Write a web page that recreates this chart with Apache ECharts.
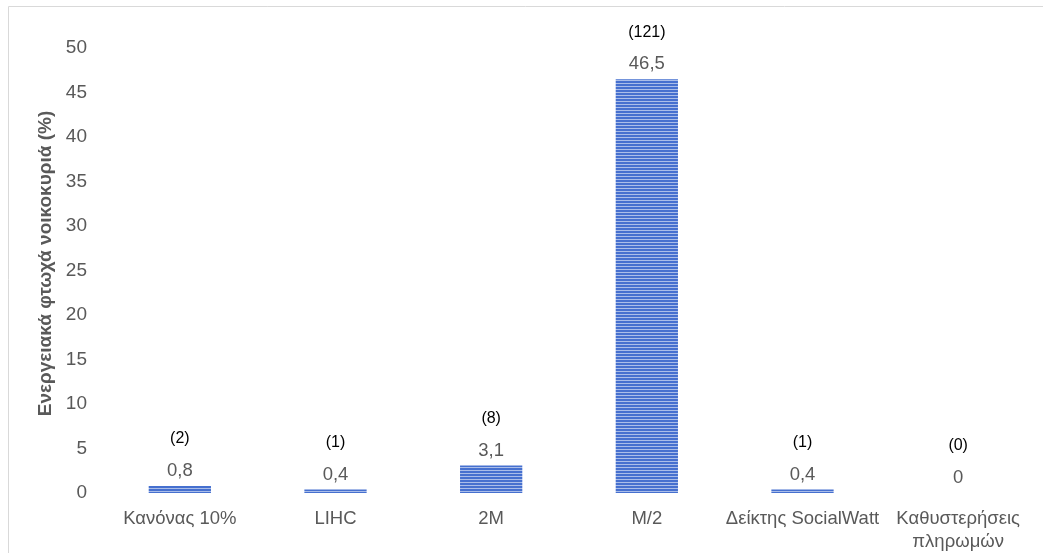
<!DOCTYPE html>
<html><head><meta charset="utf-8">
<script src="https://cdn.jsdelivr.net/npm/echarts@6/dist/echarts.min.js"></script>
<style>html,body{margin:0;padding:0;background:#fff}#c{width:1043px;height:553px}</style>
</head><body><div id="c"></div>
<script>
const categories = ['Κανόνας 10%', 'LIHC', '2M', 'M/2', 'Δείκτης SocialWatt', 'Καθυστερήσεις\nπληρωμών'];
const values = [0.8, 0.4, 3.1, 46.5, 0.4, 0];
const counts = [2, 1, 8, 121, 1, 0];
const yTicks = [0, 5, 10, 15, 20, 25, 30, 35, 40, 45, 50];

const pat = document.createElement('canvas');
pat.width = 4; pat.height = 3;
const g = pat.getContext('2d');
g.fillStyle = '#aabde9'; g.fillRect(0, 0, 4, 3);
g.fillStyle = '#4670cf'; g.fillRect(0, 0, 4, 2);

const chart = echarts.init(document.getElementById('c'));
chart.setOption({
  animation: false,
  textStyle: { fontFamily: 'Liberation Sans, Arial, sans-serif' },
  graphic: [
    { type: 'line', shape: { x1: 8.5, y1: 6.5, x2: 1043, y2: 6.5 }, style: { stroke: '#d9d9d9', lineWidth: 1 } },
    { type: 'line', shape: { x1: 8.5, y1: 6.5, x2: 8.5, y2: 553 }, style: { stroke: '#d9d9d9', lineWidth: 1 } }
  ],
  grid: { left: 102, right: 7, top: 48, bottom: 59 },
  xAxis: {
    type: 'category', data: categories,
    axisLine: { show: false }, axisTick: { show: false },
    axisLabel: { color: '#595959', fontSize: 18.5, margin: 14, lineHeight: 23, interval: 0 }
  },
  yAxis: {
    type: 'value', min: yTicks[0], max: yTicks[yTicks.length - 1], interval: 5,
    name: 'Ενεργειακά φτωχά νοικοκυριά (%)', nameLocation: 'middle', nameGap: 47,
    nameTextStyle: { color: '#595959', fontSize: 19, fontWeight: 'bold', padding: [0, 0, 0, 14] },
    axisLine: { show: false }, axisTick: { show: false }, splitLine: { show: false },
    axisLabel: { color: '#595959', fontSize: 19, margin: 15 }
  },
  series: [{
    type: 'bar', barWidth: '40%',
    data: values,
    itemStyle: { color: { image: pat, repeat: 'repeat' } },
    label: {
      show: true, position: 'top', distance: 3,
      formatter: p => '{c|(' + counts[p.dataIndex] + ')}\n{v|' + String(values[p.dataIndex]).replace('.', ',') + '}',
      rich: {
        c: { fontSize: 16, color: '#000', lineHeight: 40, fontFamily: 'Liberation Sans' },
        v: { fontSize: 18.5, color: '#595959', lineHeight: 24, fontFamily: 'Liberation Sans' }
      }
    }
  }]
});
</script></body></html>
